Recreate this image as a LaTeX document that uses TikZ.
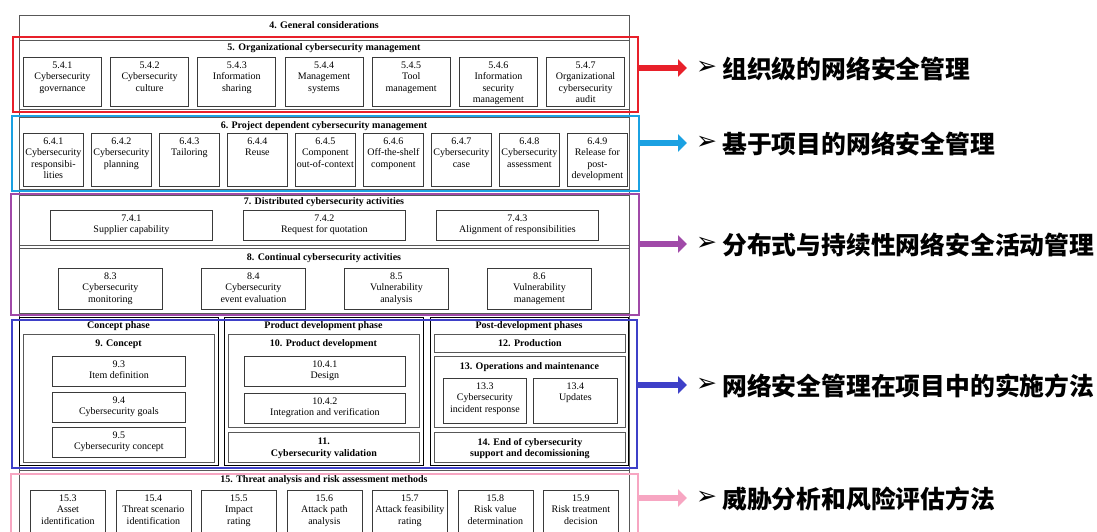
\documentclass[tikz,border=0pt]{standalone}
\usepackage{fontspec}
\setmainfont{Liberation Serif}
\newfontfamily\cjk{Noto Sans CJK SC}
\newfontfamily\djv{DejaVu Sans}
\usetikzlibrary{arrows.meta}
\definecolor{cred}{HTML}{E8202A}
\definecolor{ccyan}{HTML}{1BA1E2}
\definecolor{cpurp}{HTML}{A04AA8}
\definecolor{cblue}{HTML}{3E40C8}
\definecolor{cpink}{HTML}{F7A6C2}
\definecolor{cline}{HTML}{3A3A3A}
\tikzset{
 bx/.style={draw=cline, line width=0.8pt, rectangle, inner sep=0pt},
 sec/.style={draw=cline!85, line width=0.8pt, rectangle, inner sep=0pt},
 phase/.style={draw=black, line width=1.4pt, rectangle, inner sep=0pt},
 frame/.style={line width=1.8pt, rectangle, inner sep=0pt},
 txt/.style={font=\fontsize{10}{11.5}\selectfont, align=center, inner sep=0pt},
 ttl/.style={font=\bfseries\fontsize{10}{11.5}\selectfont, align=center, inner sep=0pt, text height=7pt, text depth=2pt},
 arr/.style={line width=6pt, -{Triangle[length={9pt 0 0}, width={17pt 0 0}]}},
 cn/.style={font=\cjk\bfseries\fontsize{24.8}{28}\selectfont, anchor=west, inner sep=0pt},
 bul/.style={font=\djv\fontsize{25}{27}\selectfont, anchor=west, inner sep=0pt}
}
% style, name, x, y, w, h
\newcommand\R[6]{\node[#1, minimum width=#5pt, minimum height=#6pt, anchor=north west] (#2) at (#3,#4) {};}
% name, x, y, w, h, text
\newcommand\B[6]{\R{bx}{#1}{#2}{#3}{#4}{#5}\node[txt, anchor=north] (#1t) at ([yshift=-4.5pt]#1.north) {#6};}
\begin{document}
\begin{tikzpicture}[x=1pt,y=-1pt]
\fill[white] (0,0) rectangle (1097,531);
\clip (0,0) rectangle (1097,531);

% 4. General considerations
\R{sec}{s4}{19}{15}{610}{540}
\node[ttl] (s4t) at (324,26) {4. General considerations};

% 5
\R{sec}{s5}{19}{40}{610}{69}
\node[ttl] (s5t) at (324,48) {5. Organizational cybersecurity management};
\foreach \i/\n/\t in {0/a/{5.4.1\\Cybersecurity\\governance},
  1/b/{5.4.2\\Cybersecurity\\culture},
  2/c/{5.4.3\\Information\\sharing},
  3/d/{5.4.4\\Management\\systems},
  4/e/{5.4.5\\Tool\\management},
  5/f/{5.4.6\\Information\\security\\management},
  6/g/{5.4.7\\Organizational\\cybersecurity\\audit}}
  {\B{b5\n}{23+87.2*\i}{57}{78}{49}{\t}}

% 6
\R{sec}{s6}{19}{117}{610}{72}
\node[ttl] (s6t) at (324,126) {6. Project dependent cybersecurity management};
\foreach \i/\n/\t in {0/a/{6.4.1\\Cybersecurity\\responsibi-\\lities},
  1/b/{6.4.2\\Cybersecurity\\planning},
  2/c/{6.4.3\\Tailoring},
  3/d/{6.4.4\\Reuse},
  4/e/{6.4.5\\Component\\out-of-context},
  5/f/{6.4.6\\Off-the-shelf\\component},
  6/g/{6.4.7\\Cybersecurity\\case},
  7/h/{6.4.8\\Cybersecurity\\assessment},
  8/k/{6.4.9\\Release for\\post-\\development}}
  {\B{b6\n}{23+68*\i}{133}{60}{53}{\t}}

% 7
\R{sec}{s7}{19}{195}{610}{50}
\node[ttl] (s7t) at (324,202) {7. Distributed cybersecurity activities};
\B{b7a}{50}{210}{162}{30}{7.4.1\\Supplier capability}
\B{b7b}{243}{210}{162}{30}{7.4.2\\Request for quotation}
\B{b7c}{436}{210}{162}{30}{7.4.3\\Alignment of responsibilities}

% 8
\R{sec}{s8}{19}{248}{610}{65}
\node[ttl] (s8t) at (324,258) {8. Continual cybersecurity activities};
\foreach \i/\n/\t in {0/a/{8.3\\Cybersecurity\\monitoring},
  1/b/{8.4\\Cybersecurity\\event evaluation},
  2/c/{8.5\\Vulnerability\\analysis},
  3/d/{8.6\\Vulnerability\\management}}
  {\B{b8\n}{58+143*\i}{268}{104}{41}{\t}}

% phases
\R{phase}{pc}{19}{317}{199}{148}
\R{phase}{pd}{224}{317}{199}{148}
\R{phase}{pp}{430}{317}{198}{148}
\node[ttl] (pct) at (118.5,326) {Concept phase};
\node[ttl] (pdt) at (323.5,326) {Product development phase};
\node[ttl] (ppt) at (529,326) {Post-development phases};

% 9
\R{sec}{s9}{23}{334}{191}{128}
\node[ttl] (s9t) at (118.5,344) {9. Concept};
\B{b93}{52}{356}{133}{30}{9.3\\Item definition}
\B{b94}{52}{392}{133}{30}{9.4\\Cybersecurity goals}
\B{b95}{52}{427}{133}{30}{9.5\\Cybersecurity concept}

% 10, 11
\R{sec}{s10}{228}{334}{191}{93}
\node[ttl] (s10t) at (323.5,344) {10. Product development};
\B{b101}{244}{356}{161}{30}{10.4.1\\Design}
\B{b102}{244}{393}{161}{30}{10.4.2\\Integration and verification}
\R{sec}{s11}{228}{432}{191}{30}
\node[txt, font=\bfseries\fontsize{10}{11.5}\selectfont] (s11t) at ([yshift=-1pt]s11.center) {11.\\Cybersecurity validation};

% 12, 13, 14
\R{sec}{s12}{434}{334}{191}{18}
\node[ttl] (s12t) at ([yshift=-0.5pt]s12.center) {12. Production};
\R{sec}{s13}{434}{356}{191}{71}
\node[ttl] (s13t) at (529.5,367) {13. Operations and maintenance};
\B{b133}{443}{378}{83}{45}{13.3\\Cybersecurity\\incident response}
\B{b134}{533}{378}{84}{45}{13.4\\Updates}
\R{sec}{s14}{434}{432}{191}{30}
\node[txt, font=\bfseries\fontsize{10}{11.5}\selectfont] (s14t) at ([yshift=-1pt]s14.center) {14. End of cybersecurity\\support and decomissioning};

% 15
\R{sec}{s15}{19}{470}{610}{70}
\node[ttl] (s15t) at (324,480) {15. Threat analysis and risk assessment methods};
\foreach \i/\n/\t in {0/a/{15.3\\Asset\\identification},
  1/b/{15.4\\Threat scenario\\identification},
  2/c/{15.5\\Impact\\rating},
  3/d/{15.6\\Attack path\\analysis},
  4/e/{15.7\\Attack feasibility\\rating},
  5/f/{15.8\\Risk value\\determination},
  6/g/{15.9\\Risk treatment\\decision}}
  {\B{b15\n}{30+85.5*\i}{490}{75}{45}{\t}}

% coloured frames
\R{frame,draw=cred}{f5}{12}{36}{625}{75}
\R{frame,draw=ccyan}{f6}{11}{115}{627}{75}
\R{frame,draw=cpurp}{f7}{10}{193}{628}{121}
\R{frame,draw=cblue}{f9}{11}{319}{625}{148}
\R{frame,draw=cpink}{f15}{10}{473}{627}{70}

% arrows
\coordinate (a5) at (687,68);
\coordinate (a6) at (687,143);
\coordinate (a7) at (687,244);
\coordinate (a9) at (687,385);
\coordinate (a15) at (687,498);
\draw[arr, cred] (f5.east |- a5) -- (a5);
\draw[arr, ccyan] (f6.east |- a6) -- (a6);
\draw[arr, cpurp] (f7.east |- a7) -- (a7);
\draw[arr, cblue] (f9.east |- a9) -- (a9);
\draw[arr, cpink] (f15.east |- a15) -- (a15);

% labels
\node[bul] (u5) at (696,68) {➢};
\node[bul] (u6) at (696,143) {➢};
\node[bul] (u7) at (696,244) {➢};
\node[bul] (u9) at (696,385) {➢};
\node[bul] (u15) at (696,498) {➢};
\node[cn] (c5) at (722,69) {组织级的网络安全管理};
\node[cn] (c6) at (722,144) {基于项目的网络安全管理};
\node[cn] (c7) at (722,245) {分布式与持续性网络安全活动管理};
\node[cn] (c9) at (722,386) {网络安全管理在项目中的实施方法};
\node[cn] (c15) at (722,499) {威胁分析和风险评估方法};
\end{tikzpicture}
\end{document}
